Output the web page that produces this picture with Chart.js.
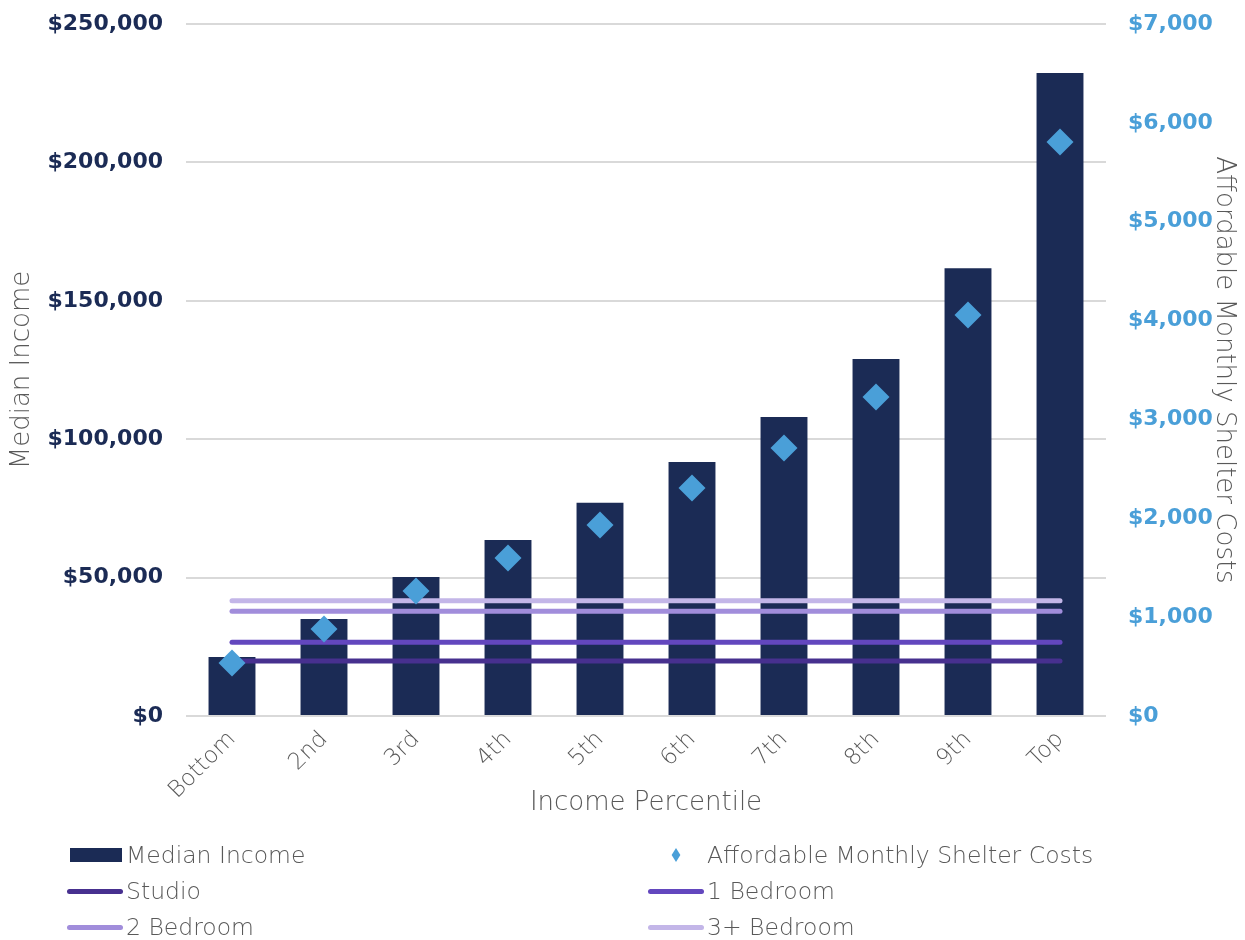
<!DOCTYPE html>
<html>
<head>
<meta charset="utf-8">
<script src="https://cdn.jsdelivr.net/npm/chart.js@4.4.1/dist/chart.umd.min.js"></script>
<style>
  html, body { margin: 0; padding: 0; background: #ffffff; }
  #wrap { position: relative; width: 1245px; height: 940px; overflow: hidden; }
  #chart { position: absolute; left: 0; top: 0; }
  #legend { position: absolute; left: 0; top: 0; width: 1245px; height: 940px; pointer-events: none;
            font-family: 'DejaVu Sans', sans-serif; font-size: 23.5px; color: #595959; }
  .item { position: absolute; height: 30px; display: flex; align-items: center; white-space: nowrap; }
  .sw { position: relative; width: 57px; height: 30px; flex: none; }
  .txt { margin-left: 2px; font-weight: 200; }
</style>
</head>
<body>
<div id="wrap">
  <canvas id="chart" width="1245" height="830"></canvas>
  <div id="legend"></div>
</div>
<script>
// ---------------- data ----------------
const categories = ['Bottom', '2nd', '3rd', '4th', '5th', '6th', '7th', '8th', '9th', 'Top'];
const medianIncome = [21300, 35000, 50200, 63600, 77000, 91800, 108000, 129000, 161800, 232300];
const affordableShelterCosts = [536, 880, 1264, 1598, 1932, 2306, 2711, 3227, 4056, 5806];
const studioRent = [556, 556, 556, 556, 556, 556, 556, 556, 556, 556];
const oneBedroomRent = [745, 745, 745, 745, 745, 745, 745, 745, 745, 745];
const twoBedroomRent = [1059, 1059, 1059, 1059, 1059, 1059, 1059, 1059, 1059, 1059];
const threePlusBedroomRent = [1166, 1166, 1166, 1166, 1166, 1166, 1166, 1166, 1166, 1166];
const incomeTicks = [0, 50000, 100000, 150000, 200000, 250000];
const costTicks = [0, 1000, 2000, 3000, 4000, 5000, 6000, 7000];
const seriesNames = ['Median Income', 'Affordable Monthly Shelter Costs', 'Studio', '1 Bedroom', '2 Bedroom', '3+ Bedroom'];
const axisTitles = { x: 'Income Percentile', y: 'Median Income', y1: 'Affordable Monthly Shelter Costs' };

// ---------------- styles ----------------
const NAVY = '#1b2b55';
const BLUE = '#4a9fd8';
const GRAY = '#595959';
const FONT = "'DejaVu Sans', sans-serif";
const lineColors = ['#47308f', '#6347be', '#a18ddb', '#c3b6e8'];

const money = v => '$' + Number(v).toLocaleString('en-US');

const rentSeries = [studioRent, oneBedroomRent, twoBedroomRent, threePlusBedroomRent];

const datasets = [
  {
    type: 'bar', label: seriesNames[0], data: medianIncome, yAxisID: 'y',
    backgroundColor: NAVY, borderWidth: 0, barPercentage: 0.51, categoryPercentage: 1.0, order: 3
  },
  {
    type: 'line', label: seriesNames[1], data: affordableShelterCosts, yAxisID: 'y1',
    showLine: false, pointStyle: 'rectRot', pointRadius: 13.5, pointHoverRadius: 13.5,
    pointBackgroundColor: BLUE, pointBorderColor: BLUE, pointBorderWidth: 0,
    backgroundColor: BLUE, borderColor: BLUE, order: 1
  }
];
rentSeries.forEach((arr, i) => {
  datasets.push({
    type: 'line', label: seriesNames[i + 2], data: arr, yAxisID: 'y1',
    borderColor: lineColors[i], backgroundColor: lineColors[i], borderWidth: 5,
    borderCapStyle: 'round', pointRadius: 0, pointHoverRadius: 0, fill: false, order: 2
  });
});

const chart = new Chart(document.getElementById('chart'), {
  data: { labels: categories, datasets },
  options: {
    responsive: false,
    animation: false,
    events: [],
    layout: { padding: { top: 24, left: 0, right: 0, bottom: 0 } },
    plugins: { legend: { display: false }, tooltip: { enabled: false } },
    scales: {
      x: {
        offset: true,
        grid: { display: false },
        border: { display: false },
        ticks: { color: GRAY, font: { family: FONT, size: 23, weight: 200 }, maxRotation: 45, minRotation: 45, padding: 2 },
        title: { display: true, text: axisTitles.x, color: GRAY, font: { family: FONT, size: 26, weight: 200 }, padding: { top: 0, bottom: 11 } },
        afterFit: s => { s.height = 114; }
      },
      y: {
        position: 'left', min: 0, max: 250000,
        afterBuildTicks: s => { s.ticks = incomeTicks.map(v => ({ value: v })); },
        grid: { color: '#d9d9d9', lineWidth: 2, drawTicks: true, tickLength: 23, tickColor: 'rgba(0,0,0,0)' },
        border: { display: false },
        ticks: { color: NAVY, font: { family: FONT, size: 22, weight: 'bold' }, padding: 0, callback: v => money(v) },
        title: { display: true, text: axisTitles.y, color: GRAY, font: { family: FONT, size: 26, weight: 200 }, padding: { top: 7, bottom: 0 } },
        afterFit: s => { s.width = 186; }
      },
      y1: {
        position: 'right', min: 0, max: 7000,
        afterBuildTicks: s => { s.ticks = costTicks.map(v => ({ value: v })); },
        grid: { display: true, drawOnChartArea: false, drawTicks: true, tickLength: 22, tickColor: 'rgba(0,0,0,0)', color: 'rgba(0,0,0,0)' },
        border: { display: false },
        ticks: { color: BLUE, font: { family: FONT, size: 22, weight: 'bold' }, padding: 0, callback: v => money(v) },
        title: { display: true, text: axisTitles.y1, color: GRAY, font: { family: FONT, size: 26, weight: 200 }, padding: { top: 6, bottom: 0 } },
        afterFit: s => { s.width = 139; }
      }
    }
  }
});

// ---------------- HTML legend (two columns) ----------------
const legend = document.getElementById('legend');
const colLeft = [67, 648];
const rowCenter = [855, 891, 927];
chart.data.datasets.forEach((ds, i) => {
  const item = document.createElement('div');
  item.className = 'item';
  item.style.left = colLeft[i % 2] + 'px';
  item.style.top = (rowCenter[Math.floor(i / 2)] - 15) + 'px';
  const sw = document.createElement('div');
  sw.className = 'sw';
  const mark = document.createElement('div');
  mark.style.position = 'absolute';
  if (ds.type === 'bar') {
    Object.assign(mark.style, { left: '3px', top: '8px', width: '52px', height: '14px', background: ds.backgroundColor });
  } else if (ds.showLine === false) {
    Object.assign(mark.style, { left: '23px', top: '10px', width: '10px', height: '10px', background: ds.backgroundColor,
      transform: 'scaleX(0.62) rotate(45deg)' });
  } else {
    Object.assign(mark.style, { left: '0px', top: '12.5px', width: '56px', height: '5px', borderRadius: '3px', background: ds.borderColor });
  }
  sw.appendChild(mark);
  const txt = document.createElement('span');
  txt.className = 'txt';
  txt.textContent = ds.label;
  item.appendChild(sw);
  item.appendChild(txt);
  legend.appendChild(item);
});
</script>
</body>
</html>
